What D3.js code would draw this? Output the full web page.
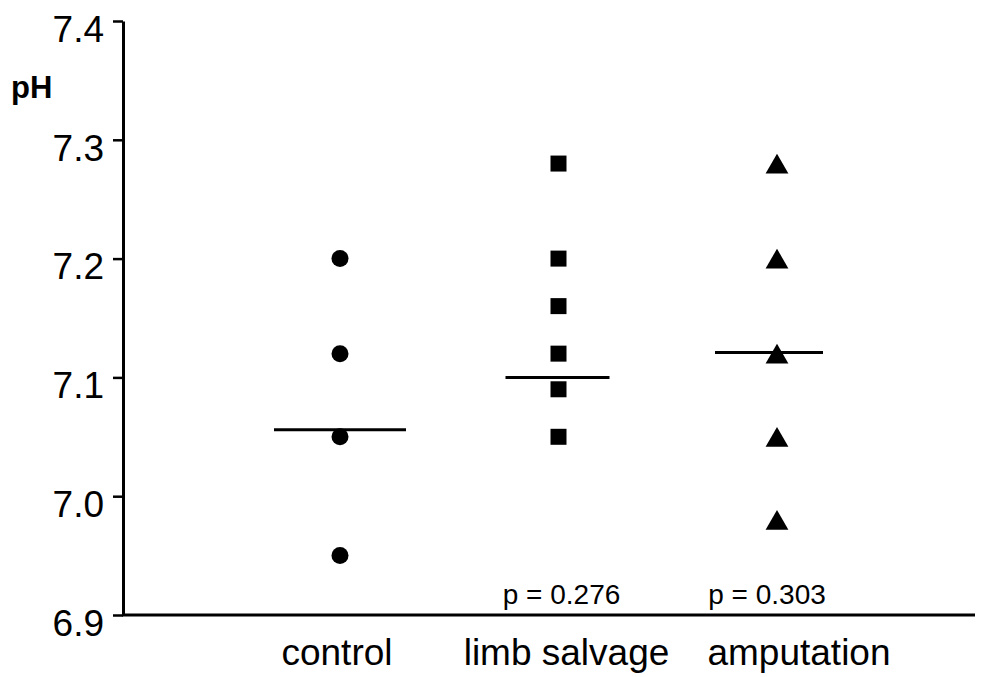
<!DOCTYPE html>
<html>
<head>
<meta charset="utf-8">
<script src="https://cdn.jsdelivr.net/npm/d3@7"></script>
<style>
  body { margin: 0; background: #fff; }
  svg { display: block; font-family: "Liberation Sans", Arial, sans-serif; }
</style>
</head>
<body>
<main></main>
<script>
// data
const groups = ["control", "limb salvage", "amputation"];
const controlPH = [7.20, 7.12, 7.05, 6.95];
const limbPH = [7.28, 7.20, 7.16, 7.12, 7.09, 7.05];
const ampPH = [7.28, 7.20, 7.12, 7.05, 6.98];
const medians = [7.056, 7.100, 7.121];
const pValues = ["", "p = 0.276", "p = 0.303"];
const yTicks = [6.9, 7.0, 7.1, 7.2, 7.3, 7.4];

const width = 990;
const height = 677;

const svg = d3.select("main")
  .append("svg")
  .attr("width", width)
  .attr("height", height);

// scales
const x = d3.scalePoint()
  .domain(groups)
  .range([340, 777]);

const y = d3.scaleLinear()
  .domain([6.9, 7.4])
  .range([615, 21]);

const axisX = 123;

// y axis
const yAxis = svg.append("g")
  .attr("transform", `translate(${axisX},0)`)
  .call(d3.axisLeft(y)
    .tickValues(yTicks)
    .tickSize(10)
    .tickSizeOuter(0)
    .tickPadding(9)
    .tickFormat(d3.format(".1f")));

yAxis.select(".domain").attr("stroke", "#000").attr("stroke-width", 3);
yAxis.selectAll(".tick line").attr("stroke", "#000").attr("stroke-width", 2.5);
yAxis.selectAll(".tick text")
  .attr("font-size", 37)
  .attr("font-family", "Liberation Sans, Arial, sans-serif")
  .attr("fill", "#000")
  .attr("dy", "0.55em");

// x axis line
svg.append("line")
  .attr("x1", axisX - 1)
  .attr("x2", 975)
  .attr("y1", y(6.9))
  .attr("y2", y(6.9))
  .attr("stroke", "#000")
  .attr("stroke-width", 3);

// y label
svg.append("text")
  .attr("x", 11)
  .attr("y", 98)
  .style("font-size", "31px")
  .style("font-weight", "bold")
  .text("pH");

// category labels
const labelShift = [-3, 8, 22];
svg.selectAll(".cat")
  .data(groups)
  .enter()
  .append("text")
  .attr("class", "cat")
  .attr("x", (d, i) => x(d) + labelShift[i])
  .attr("y", 665)
  .attr("text-anchor", "middle")
  .style("font-size", "37px")
  .text(d => d);

// p values
const pShift = [0, 3, -10];
svg.selectAll(".pval")
  .data(groups)
  .enter()
  .append("text")
  .attr("class", "pval")
  .attr("x", (d, i) => x(d) + pShift[i])
  .attr("y", 604)
  .attr("text-anchor", "middle")
  .style("font-size", "28px")
  .text((d, i) => pValues[i]);

// points
const series = [
  { name: groups[0], values: controlPH, symbol: d3.symbolCircle, size: 227, dy: 0 },
  { name: groups[1], values: limbPH, symbol: d3.symbolSquare, size: 256, dy: 0 },
  { name: groups[2], values: ampPH, symbol: d3.symbolTriangle, size: 225, dy: 3.3 }
];

series.forEach(s => {
  svg.append("g")
    .selectAll("path")
    .data(s.values)
    .enter()
    .append("path")
    .attr("d", d3.symbol().type(s.symbol).size(s.size))
    .attr("transform", d => `translate(${x(s.name)},${y(d) + s.dy})`)
    .attr("fill", "#000");
});

// median lines
const medHalf = [66, 52, 54];
const medShift = [0, -1, -8];
svg.selectAll(".median")
  .data(groups)
  .enter()
  .append("line")
  .attr("class", "median")
  .attr("x1", (d, i) => x(d) + medShift[i] - medHalf[i])
  .attr("x2", (d, i) => x(d) + medShift[i] + medHalf[i])
  .attr("y1", (d, i) => y(medians[i]))
  .attr("y2", (d, i) => y(medians[i]))
  .attr("stroke", "#000")
  .attr("stroke-width", 3);
</script>
</body>
</html>
